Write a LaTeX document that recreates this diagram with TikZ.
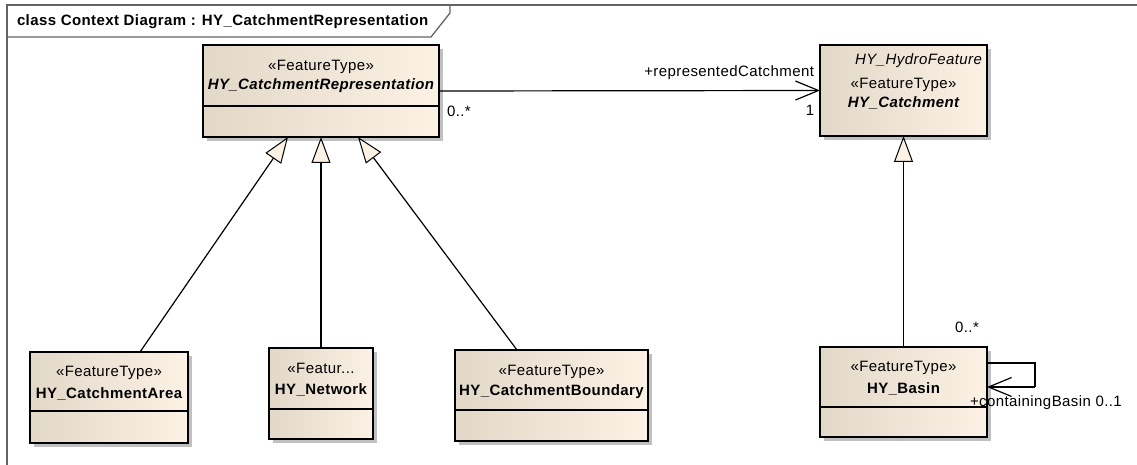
\documentclass[tikz,border=0pt]{standalone}
\usepackage{fontspec}
\setmainfont{Liberation Sans}
\newfontfamily\eafont[LetterSpace=2.8]{Liberation Sans}
\usetikzlibrary{arrows.meta,shadows,calc}

\definecolor{clsleft}{RGB}{226,216,200}
\definecolor{clsright}{RGB}{251,242,228}
\definecolor{shadowgray}{RGB}{192,192,192}
\definecolor{framegray}{RGB}{100,100,100}
\definecolor{tricream}{RGB}{251,242,228}

\begin{document}
\begin{tikzpicture}[x=1pt,y=-1pt,
  every node/.style={font=\eafont\fontsize{15}{18}\selectfont, inner sep=0pt, outer sep=0pt},
  cls/.style={draw=black, line width=1.3pt, left color=clsleft, right color=clsright,
    drop shadow={shadow xshift=4pt, shadow yshift=-4pt, fill=shadowgray, opacity=1},
    anchor=north west, minimum height=91pt},
  divider/.style={draw=black, line width=1.3pt},
  stereo/.style={font=\eafont\fontsize{15}{18}\selectfont},
  cname/.style={font=\eafont\fontsize{15}{18}\selectfont\bfseries},
  aname/.style={font=\eafont\fontsize{15}{18}\selectfont\bfseries\itshape},
  lbl/.style={font=\eafont\fontsize{15}{18}\selectfont},
  assoc/.style={draw=black, line width=1.2pt, -{Straight Barb[length=23pt,width=19pt,line width=1.2pt]}},
  loopline/.style={draw=black, line width=1.2pt},
  gen/.style={draw=black, line width=1.2pt, -{Triangle[length=26pt,width=19pt,fill=tricream,line width=1pt]}},
  framestyle/.style={draw=framegray, line width=1.3pt}
]
\useasboundingbox (0,0) rectangle (1137,465);
\fill[white] (0,0) rectangle (1137,465);

% diagram frame and title tab
\draw[framestyle] (7,465) -- (7,5) -- (1137,5);
\draw[framestyle] (7,37) -- (431,37) -- (450,13) -- (450,5);
\node[font=\eafont\fontsize{15}{18}\selectfont\bfseries, anchor=west] (title) at (17,22)
  {class Context Diagram : HY\_CatchmentRepresentation};

% classes
\node[cls, minimum width=236pt, minimum height=92pt] (rep) at (203,45) {};
\draw[divider] ($(rep.north west)+(0,61)$) -- ($(rep.north east)+(0,61)$);
\node[stereo] (repst) at ($(rep.north)+(0,22)$) {«FeatureType»};
\node[aname] (repnm) at ($(rep.north)+(0,41)$) {HY\_CatchmentRepresentation};

\node[cls, minimum width=167pt] (catch) at (820,45) {};
\node[font=\eafont\fontsize{15}{18}\selectfont\itshape, anchor=east] (catchpar) at ($(catch.north east)+(-5,16)$) {HY\_HydroFeature};
\node[stereo] (catchst) at ($(catch.north)+(0,40)$) {«FeatureType»};
\node[aname] (catchnm) at ($(catch.north)+(0,58)$) {HY\_Catchment};

\node[cls, minimum width=158pt] (area) at (30,352) {};
\draw[divider] ($(area.north west)+(0,59)$) -- ($(area.north east)+(0,59)$);
\node[stereo] (areast) at ($(area.north)+(0,21)$) {«FeatureType»};
\node[cname] (areanm) at ($(area.north)+(0,42)$) {HY\_CatchmentArea};

\node[cls, minimum width=104pt] (net) at (269,348) {};
\draw[divider] ($(net.north west)+(0,61)$) -- ($(net.north east)+(0,61)$);
\node[stereo] (netst) at ($(net.north)+(0,20)$) {«Featur...};
\node[cname] (netnm) at ($(net.north)+(0,42)$) {HY\_Network};

\node[cls, minimum width=193pt] (bound) at (455,350) {};
\draw[divider] ($(bound.north west)+(0,60)$) -- ($(bound.north east)+(0,60)$);
\node[stereo] (boundst) at ($(bound.north)+(0,22)$) {«FeatureType»};
\node[cname] (boundnm) at ($(bound.north)+(0,42)$) {HY\_CatchmentBoundary};

\node[cls, minimum width=167pt, minimum height=90pt] (basin) at (820,347) {};
\draw[divider] ($(basin.north west)+(0,60)$) -- ($(basin.north east)+(0,60)$);
\node[stereo] (basinst) at ($(basin.north)+(0,21)$) {«FeatureType»};
\node[cname] (basinnm) at ($(basin.north)+(0,42)$) {HY\_Basin};

% association to the catchment
\draw[assoc] (rep.east) -- (catch.west);
\node[lbl, anchor=east] (rolecatch) at ($(catch.west)+(-6,-18)$) {+representedCatchment};
\node[lbl] (multcatch) at ($(catch.west)+(-10,20)$) {1};
\node[lbl, anchor=west] (multrep) at ($(rep.east)+(8,20)$) {0..*};

% generalizations
\draw[gen] ($(area.north)+(31,0)$) -- ($(rep.south)+(-33,0)$);
\draw[gen] (net.north) -- (rep.south);
\draw[gen] ($(bound.north)+(-34.5,0)$) -- ($(rep.south)+(37,0)$);
\draw[gen] (basin.north) -- (catch.south);

% self association of the basin
\coordinate (loopa) at ($(basin.east)+(48,-29)$);
\coordinate (loopb) at ($(basin.east)+(48,-5)$);
\draw[loopline] ($(basin.east)+(0,-29)$) -- (loopa) -- (loopb);
\draw[assoc] (loopb) -- ($(basin.east)+(0,-5)$);
\node[lbl] (multbasin) at ($(basin.east)+(-20,-65)$) {0..*};
\node[lbl, anchor=west] (rolebasin) at ($(basin.east)+(-17,11)$) {+containingBasin 0..1};
\end{tikzpicture}
\end{document}
